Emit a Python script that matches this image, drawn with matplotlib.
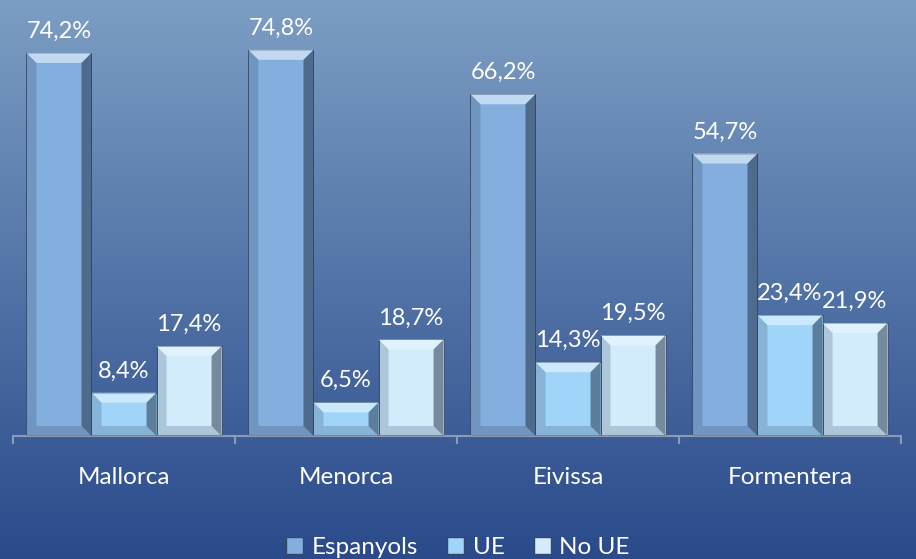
import numpy as np
import matplotlib.pyplot as plt
from matplotlib.patches import Polygon, Patch

islands = ['Mallorca', 'Menorca', 'Eivissa', 'Formentera']
series = ['Espanyols', 'UE', 'No UE']
espanyols = [74.2, 74.8, 66.2, 54.7]
ue = [8.4, 6.5, 14.3, 23.4]
no_ue = [17.4, 18.7, 19.5, 21.9]
colors = ['#84aedd', '#a0d4f8', '#d3ecfc']

plt.rcParams['font.family'] = ['Lato', 'DejaVu Sans']

fig = plt.figure(figsize=(9.16, 5.59), dpi=100)

# background gradient
bg = fig.add_axes([0, 0, 1, 1], zorder=0)
grad = np.linspace(0, 1, 256).reshape(-1, 1)
top = np.array([0x7c, 0x9e, 0xc3]) / 255
bot = np.array([0x2a, 0x4a, 0x8b]) / 255
img = top[None, None, :] * (1 - grad[:, :, None]) + bot[None, None, :] * grad[:, :, None]
bg.imshow(img, aspect='auto', extent=[0, 1, 0, 1])
bg.axis('off')

ax = fig.add_axes([13 / 916, 1 - 436 / 559, 888 / 916, 413 / 559], zorder=1)
ax.patch.set_visible(False)
ax.set_xlim(-0.5, 3.5)
ax.set_ylim(0, 80)

x = np.arange(len(islands))
w = 0.293
bx = 10 / 222   # bevel size in x units
by = 10 / 5.16  # bevel size in y units

for i, (vals, col) in enumerate(zip([espanyols, ue, no_ue], colors)):
    bars = ax.bar(x + (i - 1) * w, vals, w, color=col, edgecolor='#34486a',
                  linewidth=0.6, zorder=2)
    for b, v in zip(bars, vals):
        x0, x1 = b.get_x(), b.get_x() + b.get_width()
        h = b.get_height()
        byy = min(by, h / 2)
        # top bevel (light)
        ax.add_patch(Polygon([[x0, h], [x1, h], [x1 - bx, h - byy], [x0 + bx, h - byy]],
                             closed=True, color='#eaf7ff', alpha=0.6, lw=0, zorder=3))
        # right bevel (dark)
        ax.add_patch(Polygon([[x1, h], [x1, 0], [x1 - bx, byy], [x1 - bx, h - byy]],
                             closed=True, color='#1a2a40', alpha=0.5, lw=0, zorder=3))
        # left bevel
        ax.add_patch(Polygon([[x0, h], [x0 + bx, h - byy], [x0 + bx, byy], [x0, 0]],
                             closed=True, color='#2a3f5e', alpha=0.22, lw=0, zorder=3))
        # bottom bevel
        ax.add_patch(Polygon([[x0, 0], [x1, 0], [x1 - bx, byy], [x0 + bx, byy]],
                             closed=True, color='#2a3f5e', alpha=0.22, lw=0, zorder=3))
        ax.annotate(f'{v:.1f}%'.replace('.', ','), (b.get_x() + b.get_width() / 2, h),
                    xytext=(0, 8), textcoords='offset points', ha='center', va='bottom',
                    color='white', fontsize=17, annotation_clip=False)

for s in ['top', 'right', 'left']:
    ax.spines[s].set_visible(False)
ax.spines['bottom'].set_color('#8c9bb0')
ax.spines['bottom'].set_linewidth(1.5)
ax.set_yticks([])
ax.set_xticks([-0.5, 0.5, 1.5, 2.5, 3.5])
ax.set_xticklabels([])
ax.tick_params(axis='x', length=6, width=1.5, color='#8c9bb0')
for xi, name in zip(x, islands):
    ax.text(xi, -0.1, name, transform=ax.get_xaxis_transform(), ha='center',
            va='center', color='white', fontsize=17.5)

handles = [Patch(facecolor=c, edgecolor='#34486a', label=s) for c, s in zip(colors, series)]
fig.legend(handles=handles, loc='lower center', bbox_to_anchor=(0.5, -0.038), ncol=3,
           frameon=False, fontsize=17.5, labelcolor='white', handlelength=0.7,
           handleheight=0.7, handletextpad=0.35, columnspacing=1.2)

fig.savefig('out.png', dpi=100)
